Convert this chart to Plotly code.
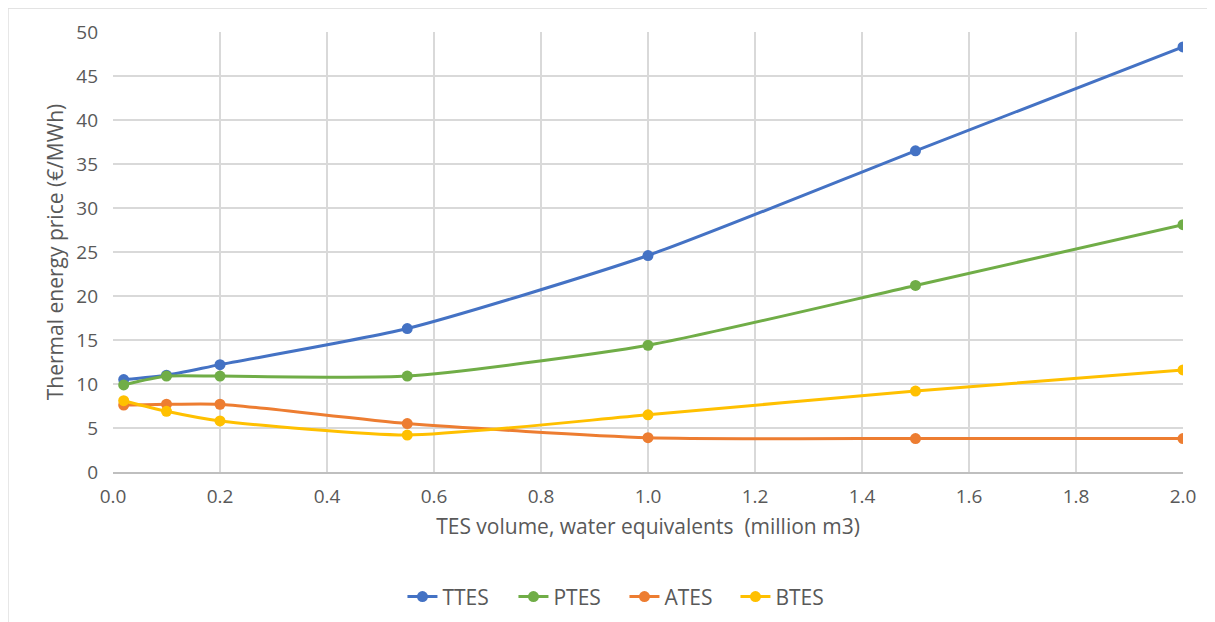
import plotly.graph_objects as go

# TES volume (million m3)
volume = [0.02, 0.1, 0.2, 0.55, 1.0, 1.5, 2.0]

# thermal energy price (EUR/MWh) per storage type
ttes = [10.5, 11.0, 12.2, 16.3, 24.6, 36.5, 48.3]
ptes = [9.9, 10.9, 10.9, 10.9, 14.4, 21.2, 28.1]
ates = [7.6, 7.7, 7.7, 5.5, 3.9, 3.8, 3.8]
btes = [8.1, 6.9, 5.8, 4.2, 6.5, 9.2, 11.6]

series = [
    ("TTES", ttes, "#4472C4"),
    ("PTES", ptes, "#70AD47"),
    ("ATES", ates, "#ED7D31"),
    ("BTES", btes, "#FFC000"),
]

font_family = "Open Sans, Liberation Sans, sans-serif"
grey = "#595959"
grid = "#D9D9D9"
fs = 19
title_fs = 21

fig = go.Figure()
for name, vals, color in series:
    fig.add_trace(go.Scatter(
        x=volume, y=vals, name=name, mode="lines+markers",
        line=dict(color=color, width=3, shape="spline", smoothing=0.6),
        marker=dict(color=color, size=11),
    ))

fig.update_layout(
    width=1215, height=622,
    margin=dict(l=105, r=40, t=24, b=158),
    paper_bgcolor="white", plot_bgcolor="white",
    font=dict(family=font_family, color=grey, size=fs),
    legend=dict(orientation="h", x=0.478, xanchor="center", y=-0.284, yanchor="middle",
                font=dict(size=title_fs, color=grey), tracegroupgap=0,
                entrywidth=66, entrywidthmode="pixels"),
    showlegend=True,
)

fig.update_xaxes(
    range=[0, 2.0], dtick=0.2, tickformat=".1f",
    showgrid=True, gridcolor=grid, gridwidth=1.5,
    showline=True, linecolor="#BFBFBF", linewidth=1.5,
    ticks="", tickfont=dict(size=fs, color=grey), ticklabelstandoff=6,
    title=dict(text="TES volume, water equivalents  (million m3)",
               font=dict(size=title_fs, color=grey), standoff=12),
    zeroline=False,
)
fig.update_yaxes(
    range=[0, 50], dtick=5,
    showgrid=True, gridcolor=grid, gridwidth=1.5,
    showline=False, ticks="", tickfont=dict(size=fs, color=grey), ticklabelstandoff=14,
    title=dict(text="Thermal energy price (€/MWh)",
               font=dict(size=title_fs, color=grey), standoff=6),
    zeroline=False,
)

# light outer frame of the chart area
fig.add_shape(type="rect", xref="paper", yref="paper",
              x0=-0.098, x1=1.03, y0=-0.345, y1=1.054,
              line=dict(color="#D9D9D9", width=1), layer="below")

fig.write_html("out.html")
